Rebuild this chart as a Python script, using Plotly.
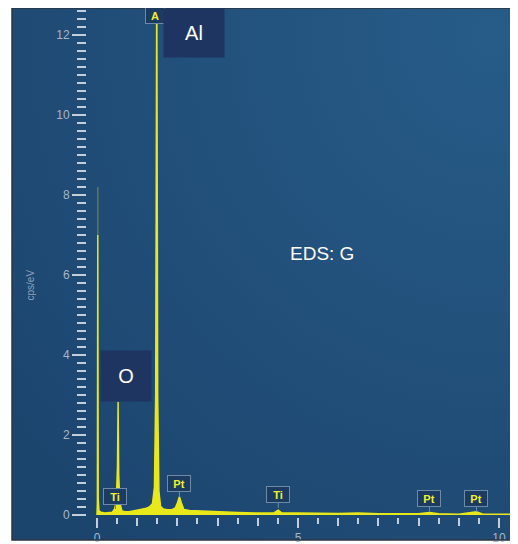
import base64
import plotly.graph_objects as go

# ---------------- data ----------------
energy_kev = [0.00, 0.01, 0.02, 0.03, 0.05, 0.10, 0.20, 0.30, 0.38, 0.44, 0.48, 0.51,
              0.525, 0.54, 0.57, 0.62, 0.70, 0.80, 0.90, 1.00, 1.10, 1.20, 1.30, 1.38,
              1.43, 1.46, 1.487, 1.51, 1.54, 1.58, 1.65, 1.75, 1.85, 1.95, 2.00, 2.05,
              2.10, 2.16, 2.30, 2.50, 2.80, 3.00, 3.50, 4.00, 4.40, 4.51, 4.60, 5.00,
              5.50, 6.00, 6.50, 7.00, 7.50, 8.00, 8.27, 8.50, 9.00, 9.44, 9.60, 10.00, 10.45]
counts_cps_ev = [0.00, 0.30, 7.00, 0.40, 0.10, 0.07, 0.05, 0.06, 0.07, 0.15, 0.35, 1.20,
                 2.83, 1.00, 0.30, 0.10, 0.08, 0.08, 0.10, 0.11, 0.13, 0.16, 0.20, 0.28,
                 0.70, 3.00, 13.50, 3.00, 0.60, 0.22, 0.15, 0.13, 0.13, 0.18, 0.30, 0.46,
                 0.30, 0.14, 0.11, 0.10, 0.08, 0.07, 0.06, 0.05, 0.05, 0.12, 0.05, 0.05,
                 0.04, 0.04, 0.05, 0.03, 0.03, 0.03, 0.06, 0.03, 0.02, 0.08, 0.02, 0.02, 0.02]

# faint upper part of the zero-energy strobe peak
zero_peak_energy = [0.02, 0.02]
zero_peak_faint = [7.0, 8.2]

# big element labels
label_text = ["Al", "O"]
label_energy = [1.487, 0.525]
label_height = [12.75, 2.83]

# small line markers (tags)
tag_text = ["Ti", "Pt", "Ti", "Pt", "Pt"]
tag_energy = [0.46, 2.05, 4.51, 8.27, 9.44]
tag_height = [0.15, 0.46, 0.18, 0.08, 0.08]
top_tag_text = "A"
top_tag_energy = 1.487
top_tag_height = 12.5

title_text = "EDS: G"
y_title = "cps/eV"

y_major = [0, 2, 4, 6, 8, 10, 12]
y_minor = [round(v * 0.2, 1) for v in range(0, 64) if (v % 10) != 0]
x_major = [0, 5, 10]
x_mid = [1, 2, 3, 4, 6, 7, 8, 9]
x_minor = [v + 0.5 for v in range(0, 10)]

# ---------------- styling ----------------
# page has an 8px body margin; figure occupies page x 8..518, y 8..544
W, H = 510, 536
L, R, T, B = 4, 1, 0, 4
X_RANGE = [-2.114, 10.448]
Y_RANGE = [-0.625, 12.675]
YELLOW = "#e8e81a"
TICK = "#c3cedb"
TICKLAB = "#a6b6ca"
TAG_BG = "#1b3b60"
TAG_BORDER = "#6f8aa6"
TAG_TEXT = "#f0f030"
BOX_BG = "#1d3560"
PH = 532.0  # plot-area height in px


def py(page_y):
    return (540 - page_y) / PH


def px(page_x):
    return (page_x - 12) / 505.0


svg = ('<svg xmlns="http://www.w3.org/2000/svg" width="505" height="532">'
       '<defs><radialGradient id="g" cx="0.95" cy="0.05" r="1.2">'
       '<stop offset="0" stop-color="#275c88"/>'
       '<stop offset="1" stop-color="#1c456e"/>'
       '</radialGradient></defs>'
       '<rect width="505" height="532" fill="url(#g)"/></svg>')
bg_src = "data:image/svg+xml;base64," + base64.b64encode(svg.encode()).decode()

fig = go.Figure()

fig.add_trace(go.Scatter(
    x=energy_kev, y=counts_cps_ev, mode="lines",
    line=dict(color=YELLOW, width=1.5), fill="tozeroy", fillcolor=YELLOW,
    hoverinfo="skip", showlegend=False))

fig.add_trace(go.Scatter(
    x=zero_peak_energy, y=zero_peak_faint, mode="lines",
    line=dict(color="#5f7a4a", width=1.5), hoverinfo="skip", showlegend=False))

# x-axis integer ticks on an overlay axis
fig.add_trace(go.Scatter(x=[None], y=[None], xaxis="x2", yaxis="y", showlegend=False))

annotations = []
for t, e, h in zip(tag_text, tag_energy, tag_height):
    annotations.append(dict(
        x=e, y=h, xref="x", yref="y", text="<b>" + t + "</b>",
        showarrow=True, arrowhead=0, arrowwidth=1, arrowcolor=TAG_BORDER,
        ax=0, ay=-13, bgcolor=TAG_BG, bordercolor=TAG_BORDER, borderwidth=1,
        borderpad=1, width=20, height=13,
        font=dict(family="Liberation Sans, Arial", size=11, color=TAG_TEXT)))
annotations.append(dict(
    x=top_tag_energy, y=top_tag_height, xref="x", yref="y",
    text="<b>" + top_tag_text + "</b>", showarrow=False, xshift=-2,
    bgcolor=TAG_BG, bordercolor=TAG_BORDER, borderwidth=1, borderpad=1,
    width=16, height=13,
    font=dict(family="Liberation Sans, Arial", size=11, color=TAG_TEXT)))

annotations.append(dict(
    x=label_energy[0], y=1, xref="x", yref="paper", xanchor="left", yanchor="top",
    xshift=6, text=label_text[0], showarrow=False, bgcolor=BOX_BG,
    width=60, height=48, borderpad=0,
    font=dict(family="Liberation Sans, Arial", size=20, color="white")))
annotations.append(dict(
    x=label_energy[1], y=label_height[1], xref="x", yref="y", xanchor="center",
    yanchor="bottom", xshift=8, text=label_text[1], showarrow=False, bgcolor=BOX_BG,
    width=50, height=50, borderpad=0,
    font=dict(family="Liberation Sans, Arial", size=20, color="white")))

annotations.append(dict(
    x=px(322), y=py(253), xref="paper", yref="paper", text=title_text, showarrow=False,
    font=dict(family="Liberation Sans, Arial", size=19, color="white")))
annotations.append(dict(
    x=px(22), y=py(285), xref="paper", yref="paper", text=y_title, showarrow=False,
    textangle=-90, font=dict(family="Liberation Sans, Arial", size=10, color="#8ea2ba")))

fig.update_layout(
    width=W, height=H, margin=dict(l=L, r=R, t=T, b=B),
    paper_bgcolor="white", plot_bgcolor="#1f4a73",
    images=[dict(source=bg_src, xref="paper", yref="paper", x=0, y=1,
                 sizex=1, sizey=1, sizing="stretch", layer="below")],
    xaxis=dict(range=X_RANGE, anchor="free", position=py(517), showgrid=False,
               zeroline=False, showline=False, tickmode="array", tickvals=x_major,
               ticktext=[str(v) for v in x_major], ticks="outside", ticklen=10,
               tickwidth=2, tickcolor=TICK,
               tickfont=dict(family="Liberation Sans, Arial", size=12, color=TICKLAB),
               minor=dict(tickmode="array", tickvals=x_minor, ticks="outside",
                          ticklen=6, tickwidth=2, tickcolor=TICK)),
    xaxis2=dict(range=X_RANGE, overlaying="x", anchor="free", position=py(517),
                showgrid=False, zeroline=False, showline=False, tickmode="array",
                tickvals=x_mid, ticktext=["" for _ in x_mid], ticks="outside",
                ticklen=8, tickwidth=2, tickcolor=TICK, side="bottom"),
    yaxis=dict(range=Y_RANGE, anchor="free", position=px(86), showgrid=False,
               zeroline=False, showline=False, tickmode="array", tickvals=y_major,
               ticktext=[str(v) for v in y_major], ticks="outside", ticklen=14,
               tickwidth=2, tickcolor=TICK,
               tickfont=dict(family="Liberation Sans, Arial", size=12, color=TICKLAB),
               minor=dict(tickmode="array", tickvals=y_minor, ticks="outside",
                          ticklen=9, tickwidth=2, tickcolor=TICK)),
    annotations=annotations,
    shapes=[dict(type="rect", xref="paper", yref="paper", x0=0, x1=1, y0=0, y1=1,
                 line=dict(color="#2b3440", width=1.5), layer="above")],
)

fig.write_html("out.html")
